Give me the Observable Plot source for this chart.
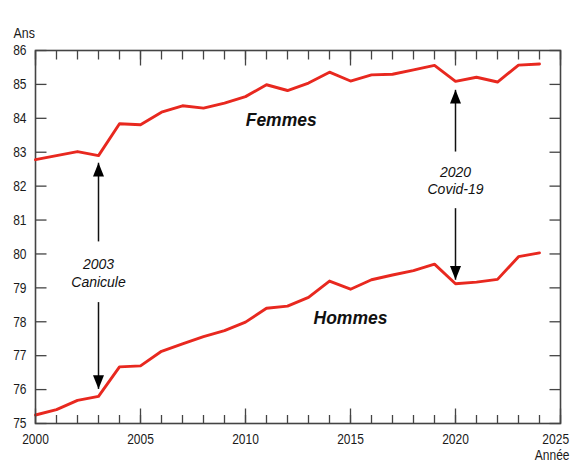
<!DOCTYPE html>
<html><head><meta charset="utf-8">
<script src="https://cdn.jsdelivr.net/npm/d3@7"></script>
<script src="https://cdn.jsdelivr.net/npm/@observablehq/plot@0.6"></script>
<style>html,body{margin:0;padding:0;background:#fff;}</style>
</head><body><div id="chart"></div>
<script>
const years = [2000,2001,2002,2003,2004,2005,2006,2007,2008,2009,2010,2011,2012,2013,2014,2015,2016,2017,2018,2019,2020,2021,2022,2023,2024];
const femmes = [82.78,82.90,83.02,82.90,83.84,83.81,84.18,84.37,84.30,84.45,84.64,84.99,84.82,85.04,85.36,85.10,85.28,85.30,85.43,85.56,85.09,85.21,85.07,85.57,85.60];
const hommes = [75.25,75.41,75.68,75.80,76.67,76.70,77.13,77.35,77.56,77.74,77.99,78.40,78.46,78.72,79.20,78.96,79.24,79.38,79.51,79.70,79.12,79.17,79.25,79.92,80.03];

const xDomain = [2000, 2025];
const yDomain = [75, 86];
const xTicksMinor = d3.range(2000, 2026);
const xTicksMajor = [2000,2005,2010,2015,2020,2025];
const yTicks = d3.range(75, 87);

// annotations
const arrowYears = [2003, 2003, 2020, 2020];
const arrowFrom = [80.37, 78.58, 83.02, 81.35];
const arrowTo = [82.69, 76.02, 84.84, 79.24];
const arrowDir = ["up", "down", "up", "down"];
const eventYears = [2003, 2020];
const eventY = [79.45, 82.19];
const eventLabels = ["2003\nCanicule", "2020\nCovid-19"];
const seriesNames = ["Femmes", "Hommes"];
const seriesLabelX = [2011.7, 2015.0];
const seriesLabelY = [83.94, 78.11];

const dataF = years.map((y, i) => ({year: y, v: femmes[i]}));
const dataH = years.map((y, i) => ({year: y, v: hommes[i]}));
const arrows = arrowYears.map((y, i) => ({year: y, from: arrowFrom[i], to: arrowTo[i], dir: arrowDir[i]}));
const events = eventYears.map((y, i) => ({year: y, v: eventY[i], label: eventLabels[i]}));
const series = seriesNames.map((n, i) => ({name: n, x: seriesLabelX[i], y: seriesLabelY[i]}));

const headUp = {draw(c) { c.moveTo(0, 0); c.lineTo(-5.5, 13.7); c.lineTo(5.5, 13.7); c.closePath(); }};
const headDown = {draw(c) { c.moveTo(0, 0); c.lineTo(-5.5, -13.7); c.lineTo(5.5, -13.7); c.closePath(); }};

const W = 571, H = 463, ML = 35, MR = 11, MT = 50, MB = 40;
const FW = W - ML - MR, FH = H - MT - MB;
const uY = (yDomain[1] - yDomain[0]) / FH; // data units per pixel (vertical)
const uX = (xDomain[1] - xDomain[0]) / FW; // data units per pixel (horizontal)
const RED = "#e8281f";
const AX = "#444";
const tk = {stroke: AX, strokeWidth: 1.3};

// inward tick marks on the four sides (lengths given in pixels)
const xTickSpecs = [
  {ticks: xTicksMinor, base: yDomain[0], len: 8.5 * uY},
  {ticks: xTicksMajor, base: yDomain[0], len: 15 * uY},
  {ticks: xTicksMinor, base: yDomain[1], len: -9 * uY},
  {ticks: xTicksMajor, base: yDomain[1], len: -15 * uY}
];
const xTickData = xTickSpecs.flatMap(s => s.ticks.map(t => ({x: t, y1: s.base, y2: s.base + s.len})));
const yTickData = yTicks.flatMap(t => [
  {y: t, x1: xDomain[0], x2: xDomain[0] + 11 * uX},
  {y: t, x1: xDomain[1], x2: xDomain[1] - 11 * uX}
]);

const chart = Plot.plot({
  width: W,
  height: H,
  marginLeft: ML,
  marginRight: MR,
  marginTop: MT,
  marginBottom: MB,
  style: {fontFamily: "'Liberation Sans', sans-serif", fontSize: "15px", color: "#1a1a1a", background: "#fff"},
  x: {domain: xDomain, label: null},
  y: {domain: yDomain, label: null},
  marks: [
    Plot.frame({stroke: AX, strokeWidth: 1.6, fill: "none"}),
    Plot.axisX({anchor: "bottom", ticks: xTicksMajor, tickSize: 0, tickPadding: 10, tickFormat: "d", label: null, fontSize: 15}),
    Plot.axisY({anchor: "left", ticks: yTicks, tickSize: 0, tickPadding: 9, tickFormat: "d", label: null, fontSize: 15}),
    Plot.lineY(dataF, {x: "year", y: "v", stroke: RED, strokeWidth: 2.9}),
    Plot.lineY(dataH, {x: "year", y: "v", stroke: RED, strokeWidth: 2.9}),
    Plot.link(arrows, {x1: "year", x2: "year", y1: "from", y2: "to", stroke: "#111", strokeWidth: 1.5}),
    Plot.dot(arrows.filter(d => d.dir === "up"), {x: "year", y: "to", symbol: headUp, fill: "#000", r: 5}),
    Plot.dot(arrows.filter(d => d.dir === "down"), {x: "year", y: "to", symbol: headDown, fill: "#000", r: 5}),
    Plot.text(events, {x: "year", y: "v", text: "label", fontStyle: "italic", fontSize: 14, lineHeight: 1.25, fill: "#111"}),
    Plot.text(series, {x: "x", y: "y", text: "name", fontStyle: "italic", fontWeight: "bold", fontSize: 17.5, fill: "#111"}),
    Plot.text(["Ans"], {frameAnchor: "top-left", text: d => d, dx: -22, dy: -24, textAnchor: "start", fontSize: 15.5}),
    Plot.text(["Année"], {frameAnchor: "bottom-right", text: d => d, dx: 9, dy: 26, textAnchor: "end", lineAnchor: "top", fontSize: 15}),
    Plot.link(xTickData, {x1: "x", x2: "x", y1: "y1", y2: "y2", ...tk}),
    Plot.link(yTickData, {x1: "x1", x2: "x2", y1: "y", y2: "y", ...tk})
  ]
});
document.getElementById("chart").appendChild(chart);

// condense axis / unit labels (the reference uses a condensed face)
const condense = /^(\d{2}|\d{4}|Ans|Année)$/;
chart.querySelectorAll("text").forEach(t => {
  if (t.querySelector("tspan")) return;
  if (!condense.test(t.textContent.trim())) return;
  const w = t.getComputedTextLength();
  if (w > 0) {
    t.setAttribute("textLength", (w * 0.8).toFixed(2));
    t.setAttribute("lengthAdjust", "spacingAndGlyphs");
  }
});
// keep the last x label inside the picture
const r0 = chart.getBoundingClientRect();
chart.querySelectorAll("text").forEach(t => {
  if (!/^\d{4}$/.test(t.textContent.trim())) return;
  const b = t.getBoundingClientRect();
  const over = b.right - (r0.left + 569);
  if (over > 0) t.setAttribute("dx", (-over).toFixed(1));
});
</script>
</body></html>
